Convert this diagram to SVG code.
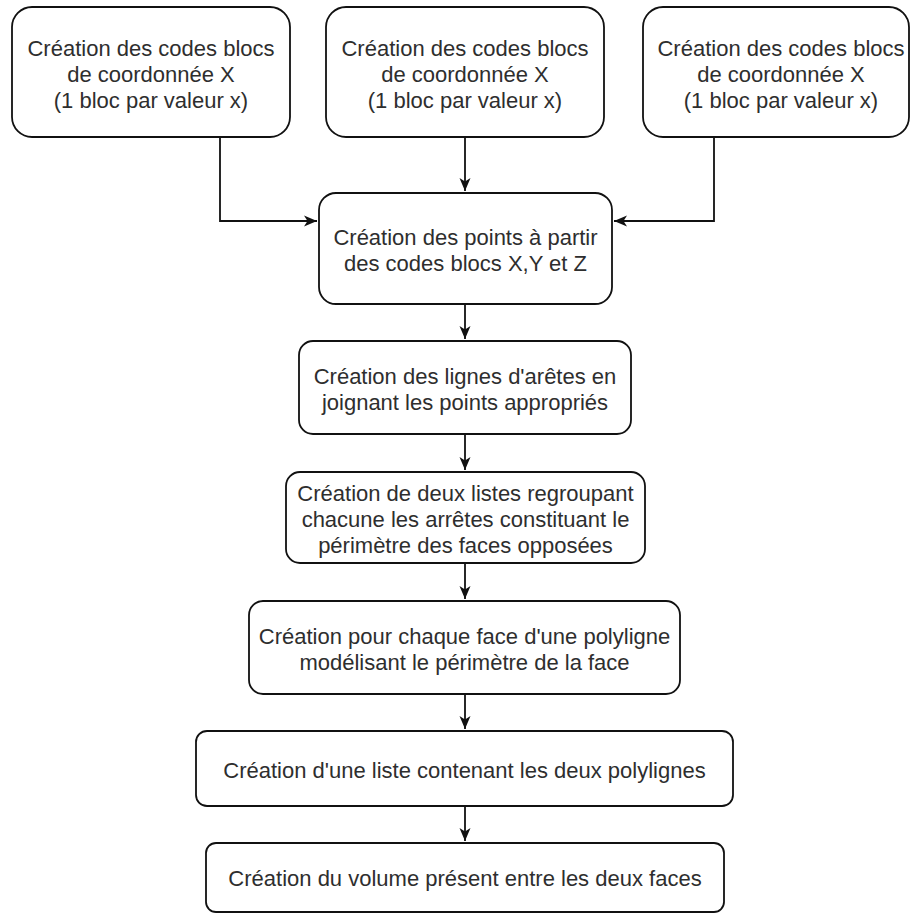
<svg xmlns="http://www.w3.org/2000/svg" width="911" height="915" viewBox="0 0 911 915">
<style>
.box{fill:#ffffff;stroke:#111111;stroke-width:1.8}
.lbl{font-family:"Liberation Sans",Arial,Helvetica,sans-serif;font-size:22px;fill:#2e2e2e;text-anchor:middle}
.con{fill:none;stroke:#111111;stroke-width:1.8}
</style>
<defs>
<marker id="arr" markerUnits="userSpaceOnUse" markerWidth="14" markerHeight="12" refX="13" refY="6" orient="auto">
<path d="M0,0.5 L13,6 L0,11.5 L3.5,6 Z" fill="#111111"/>
</marker>
</defs>
<rect width="911" height="915" fill="#ffffff"/>
<g id="connectors">
<path class="con" d="M220,137 V221 H317" marker-end="url(#arr)"/>
<path class="con" d="M465,137 V191" marker-end="url(#arr)"/>
<path class="con" d="M714,137 V221 H614" marker-end="url(#arr)"/>
<path class="con" d="M465,304 V339" marker-end="url(#arr)"/>
<path class="con" d="M465,434 V470" marker-end="url(#arr)"/>
<path class="con" d="M465,563 V599" marker-end="url(#arr)"/>
<path class="con" d="M465,694 V729" marker-end="url(#arr)"/>
<path class="con" d="M465,806 V841" marker-end="url(#arr)"/>
</g>
<g id="node1">
<rect class="box" x="12" y="7" width="278" height="130" rx="20" ry="20"/>
<text class="lbl" x="151" y="56">Création des codes blocs</text>
<text class="lbl" x="151" y="82">de coordonnée X</text>
<text class="lbl" x="151" y="108">(1 bloc par valeur x)</text>
</g>
<g id="node2">
<rect class="box" x="326" y="7" width="278" height="130" rx="20" ry="20"/>
<text class="lbl" x="465" y="56">Création des codes blocs</text>
<text class="lbl" x="465" y="82">de coordonnée X</text>
<text class="lbl" x="465" y="108">(1 bloc par valeur x)</text>
</g>
<g id="node3">
<rect class="box" x="643" y="7" width="266" height="130" rx="20" ry="20"/>
<text class="lbl" x="781" y="56">Création des codes blocs</text>
<text class="lbl" x="781" y="82">de coordonnée X</text>
<text class="lbl" x="781" y="108">(1 bloc par valeur x)</text>
</g>
<g id="node4">
<rect class="box" x="319" y="193" width="293" height="111" rx="17" ry="17"/>
<text class="lbl" x="465.5" y="245">Création des points à partir</text>
<text class="lbl" x="465.5" y="271">des codes blocs X,Y et Z</text>
</g>
<g id="node5">
<rect class="box" x="299" y="341" width="332" height="93" rx="14" ry="14"/>
<text class="lbl" x="465" y="383.5">Création des lignes d'arêtes en</text>
<text class="lbl" x="465" y="409.5">joignant les points appropriés</text>
</g>
<g id="node6">
<rect class="box" x="286" y="472" width="359" height="91" rx="14" ry="14"/>
<text class="lbl" x="465.5" y="500.5">Création de deux listes regroupant</text>
<text class="lbl" x="465.5" y="526.5">chacune les arrêtes constituant le</text>
<text class="lbl" x="465.5" y="552.5">périmètre des faces opposées</text>
</g>
<g id="node7">
<rect class="box" x="249" y="601" width="431" height="93" rx="14" ry="14"/>
<text class="lbl" x="464.5" y="643.5">Création pour chaque face d'une polyligne</text>
<text class="lbl" x="464.5" y="669.5">modélisant le périmètre de la face</text>
</g>
<g id="node8">
<rect class="box" x="196" y="731" width="537" height="75" rx="11" ry="11"/>
<text class="lbl" x="464.5" y="777.5">Création d'une liste contenant les deux polylignes</text>
</g>
<g id="node9">
<rect class="box" x="206" y="843" width="518" height="69" rx="10" ry="10"/>
<text class="lbl" x="465" y="886">Création du volume présent entre les deux faces</text>
</g>
</svg>
